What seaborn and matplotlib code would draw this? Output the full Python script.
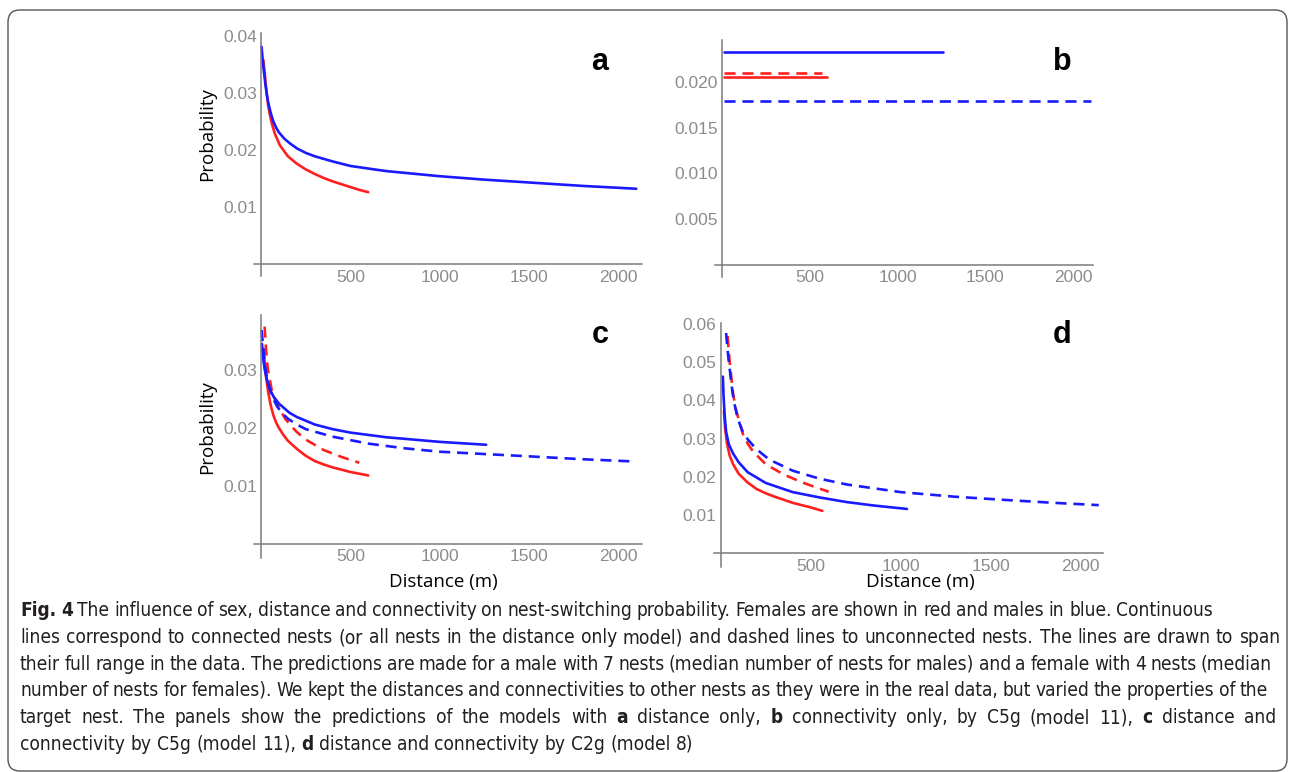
"""Fig. 4 – nest-switching probability vs distance, four model panels."""

import matplotlib
matplotlib.use('Agg')
import matplotlib.pyplot as plt
import numpy as np
import pandas as pd
import seaborn as sns
from matplotlib import font_manager
from matplotlib.font_manager import FontProperties
from matplotlib.patches import FancyBboxPatch
from matplotlib.ticker import FixedLocator, MultipleLocator, FormatStrFormatter
from matplotlib.transforms import IdentityTransform

# ---- data (distance in m, probability) ----
# a: distance only
A_DIST_F = [13, 20, 26, 33, 41, 50, 60, 78, 106, 150, 200, 250, 300, 350, 400, 450, 500, 550, 600]
A_PROB_F = [0.0358, 0.0336, 0.0317, 0.0296, 0.0276, 0.0261, 0.0247, 0.0228, 0.0208, 0.0189,
            0.0176, 0.0166, 0.0158, 0.0151, 0.0145, 0.0140, 0.0135, 0.0130, 0.0126]
A_DIST_M = [3, 8, 13, 20, 26, 33, 41, 55, 69, 85, 100, 130, 160, 200, 250, 300, 400, 500,
            700, 1000, 1250, 1500, 1800, 2100]
A_PROB_M = [0.0381, 0.0362, 0.0346, 0.0327, 0.0311, 0.0296, 0.0282, 0.0264, 0.0250, 0.0239,
            0.0231, 0.0220, 0.0212, 0.0203, 0.0195, 0.0189, 0.0180, 0.0172, 0.0163, 0.0154,
            0.0148, 0.0143, 0.0137, 0.0132]

# b: connectivity only (flat over the observed distance range)
B_DIST_F_CON = [10, 600]
B_PROB_F_CON = [0.0205, 0.0205]
B_DIST_F_UNC = [10, 570]
B_PROB_F_UNC = [0.0210, 0.0210]
B_DIST_M_CON = [10, 1260]
B_PROB_M_CON = [0.0233, 0.0233]
B_DIST_M_UNC = [10, 2100]
B_PROB_M_UNC = [0.0179, 0.0179]

# c: distance + connectivity (C5g)
C_DIST_F_CON = [15, 22, 30, 40, 50, 60, 70, 85, 100, 125, 150, 200, 250, 300, 350, 400,
                450, 500, 550, 600]
C_PROB_F_CON = [0.0335, 0.0305, 0.0284, 0.0262, 0.0245, 0.0232, 0.0221, 0.0209, 0.0200,
                0.0188, 0.0178, 0.0164, 0.0152, 0.0143, 0.0137, 0.0132, 0.0128, 0.0124,
                0.0121, 0.0118]
C_DIST_F_UNC = [20, 26, 32, 38, 45, 60, 80, 100, 135, 170, 200, 250, 300, 350, 400, 450, 500, 550]
C_PROB_F_UNC = [0.0375, 0.0345, 0.0318, 0.0302, 0.0290, 0.0265, 0.0247, 0.0235, 0.0216,
                0.0203, 0.0193, 0.0180, 0.0171, 0.0162, 0.0156, 0.0150, 0.0145, 0.0140]
C_DIST_M_CON = [5, 12, 20, 30, 40, 55, 70, 100, 130, 160, 200, 300, 400, 500, 700, 1000, 1260]
C_PROB_M_CON = [0.0345, 0.0320, 0.0302, 0.0287, 0.0276, 0.0263, 0.0254, 0.0242, 0.0234,
                0.0226, 0.0219, 0.0206, 0.0198, 0.0192, 0.0184, 0.0176, 0.0171]
C_DIST_M_UNC = [3, 10, 20, 30, 40, 60, 90, 120, 150, 200, 250, 400, 600, 800, 1000, 1250,
                1500, 1800, 2100]
C_PROB_M_UNC = [0.0369, 0.0345, 0.0312, 0.0292, 0.0277, 0.0256, 0.0237, 0.0225, 0.0216,
                0.0206, 0.0198, 0.0185, 0.0173, 0.0165, 0.0159, 0.0155, 0.0151, 0.0146, 0.0142]

# d: distance + connectivity (C2g)
D_DIST_F_CON = [18, 25, 35, 50, 70, 100, 150, 200, 250, 300, 400, 500, 565]
D_PROB_F_CON = [0.0372, 0.0325, 0.0287, 0.0255, 0.0232, 0.0208, 0.0185, 0.0168, 0.0157,
                0.0148, 0.0132, 0.0120, 0.0111]
D_DIST_F_UNC = [38, 44, 50, 60, 70, 85, 100, 125, 150, 180, 250, 350, 450, 525, 600]
D_PROB_F_UNC = [0.0568, 0.0532, 0.0500, 0.0455, 0.0414, 0.0375, 0.0350, 0.0310, 0.0287,
                0.0266, 0.0233, 0.0206, 0.0186, 0.0173, 0.0161]
D_DIST_M_CON = [12, 16, 22, 30, 45, 70, 100, 150, 250, 400, 550, 700, 850, 1035]
D_PROB_M_CON = [0.0462, 0.0410, 0.0360, 0.0318, 0.0285, 0.0260, 0.0238, 0.0212, 0.0184,
                0.0160, 0.0146, 0.0134, 0.0125, 0.0116]
D_DIST_M_UNC = [30, 36, 42, 50, 57, 66, 76, 94, 122, 150, 178, 220, 270, 400, 550, 700,
                1000, 1300, 1600, 1850, 2100]
D_PROB_M_UNC = [0.0576, 0.0544, 0.0514, 0.0482, 0.0453, 0.0420, 0.0392, 0.0353, 0.0318,
                0.0298, 0.0283, 0.0264, 0.0245, 0.0216, 0.0195, 0.0180, 0.0160, 0.0148,
                0.0139, 0.0132, 0.0126]

X_TICKS = [500, 1000, 1500, 2000]
Y_TICKS_A = [0.01, 0.02, 0.03, 0.04]
Y_TICKS_B = [0.005, 0.010, 0.015, 0.020]
Y_TICKS_C = [0.01, 0.02, 0.03]
Y_TICKS_D = [0.01, 0.02, 0.03, 0.04, 0.05, 0.06]
PANEL_LETTERS = ['a', 'b', 'c', 'd']

CAPTION = [
    [("Fig. 4", True), ("The influence of sex, distance and connectivity on nest-switching probability. "
                        "Females are shown in red and males in blue. Continuous", False)],
    [("lines correspond to connected nests (or all nests in the distance only model) and dashed "
      "lines to unconnected nests. The lines are drawn to span", False)],
    [("their full range in the data. The predictions are made for a male with 7 nests (median "
      "number of nests for males) and a female with 4 nests (median", False)],
    [("number of nests for females). We kept the distances and connectivities to other nests as "
      "they were in the real data, but varied the properties of the", False)],
    [("target nest. The panels show the predictions of the models with", False), ("a", True),
     ("distance only,", False), ("b", True), ("connectivity only, by C5g (model 11),", False),
     ("c", True), ("distance and", False)],
    [("connectivity by C5g (model 11),", False), ("d", True),
     ("distance and connectivity by C2g (model 8)", False)],
]

# ---- figure set-up ----
W, H = 1290, 772
sns.set_style('white')
plt.rcParams['font.family'] = ['Liberation Sans', 'DejaVu Sans']

# caption is set in a condensed face in the original; use the narrowest one around
try:
    font_manager.findfont('Liberation Sans Narrow', fallback_to_default=False)
    CAP_KW = dict(family=['Liberation Sans Narrow', 'DejaVu Sans'])
except ValueError:
    cond = font_manager.findfont(FontProperties(family='DejaVu Sans', stretch='condensed'))
    if 'Condensed' in cond:
        CAP_KW = dict(family=['DejaVu Sans'], fontstretch='condensed')
    else:
        CAP_KW = dict(family=['Liberation Sans', 'DejaVu Sans'])

PALETTE = {'female': '#ff1f1f', 'male': '#1a1aff'}
DASHES = {'connected': '', 'unconnected': (4.2, 2.6)}


def long_frame(series):
    rows = []
    for (sex, nest), (xs, ys) in series.items():
        for x, y in zip(xs, ys):
            rows.append({'distance': x, 'prob': y, 'sex': sex, 'nest': nest})
    return pd.DataFrame(rows)


def box(left, top, right, bottom):
    """pixel box (origin top-left) -> figure fraction rect"""
    return [left / W, 1 - bottom / H, (right - left) / W, (bottom - top) / H]


def style_axes(ax, xlim, ylim, yticks, ystep, yfmt):
    ax.set_xlim(*xlim)
    ax.set_ylim(*ylim)
    ax.set_facecolor('none')
    for side in ['top', 'right']:
        ax.spines[side].set_visible(False)
    for side in ['left', 'bottom']:
        ax.spines[side].set_position(('data', 0))
        ax.spines[side].set_color('#7a7a7a')
        ax.spines[side].set_linewidth(1.1)
    ax.xaxis.set_major_locator(FixedLocator(X_TICKS))
    ax.xaxis.set_minor_locator(MultipleLocator(100))
    ax.yaxis.set_major_locator(FixedLocator(yticks))
    ax.yaxis.set_minor_locator(FixedLocator(np.arange(ystep, ylim[1], ystep)))
    ax.yaxis.set_major_formatter(FormatStrFormatter(yfmt))
    ax.tick_params(which='both', direction='in', color='#7a7a7a', labelcolor='#8c8c8c',
                   labelsize=12.5, width=1)
    ax.tick_params(axis='x', pad=4)
    ax.tick_params(axis='y', pad=3)
    ax.tick_params(which='major', length=5)
    ax.tick_params(which='minor', length=3)
    ax.set_xlabel('')
    ax.set_ylabel('')


def draw(ax, series):
    df = long_frame(series)
    sns.lineplot(data=df, x='distance', y='prob', hue='sex', style='nest',
                 palette=PALETTE, dashes=DASHES, linewidth=1.9, estimator=None,
                 legend=False, ax=ax)


fig = plt.figure(figsize=(W / 100, H / 100), dpi=100)

ax_a = fig.add_axes(box(253.9, 33.2, 641.6, 276.5))
draw(ax_a, {('female', 'connected'): (A_DIST_F, A_PROB_F),
            ('male', 'connected'): (A_DIST_M, A_PROB_M)})
style_axes(ax_a, (-40, 2130), (-0.0022, 0.0405), Y_TICKS_A, 0.002, '%.2f')

ax_b = fig.add_axes(box(715, 40, 1093, 276.6))
draw(ax_b, {('female', 'connected'): (B_DIST_F_CON, B_PROB_F_CON),
            ('female', 'unconnected'): (B_DIST_F_UNC, B_PROB_F_UNC),
            ('male', 'connected'): (B_DIST_M_CON, B_PROB_M_CON),
            ('male', 'unconnected'): (B_DIST_M_UNC, B_PROB_M_UNC)})
style_axes(ax_b, (-40, 2113), (-0.0013, 0.0246), Y_TICKS_B, 0.001, '%.3f')

ax_c = fig.add_axes(box(253.9, 315, 641.6, 558.3))
draw(ax_c, {('female', 'connected'): (C_DIST_F_CON, C_PROB_F_CON),
            ('female', 'unconnected'): (C_DIST_F_UNC, C_PROB_F_UNC),
            ('male', 'connected'): (C_DIST_M_CON, C_PROB_M_CON),
            ('male', 'unconnected'): (C_DIST_M_UNC, C_PROB_M_UNC)})
style_axes(ax_c, (-40, 2130), (-0.0025, 0.0395), Y_TICKS_C, 0.002, '%.2f')

ax_d = fig.add_axes(box(713.5, 322.7, 1103.4, 566.7))
draw(ax_d, {('female', 'connected'): (D_DIST_F_CON, D_PROB_F_CON),
            ('female', 'unconnected'): (D_DIST_F_UNC, D_PROB_F_UNC),
            ('male', 'connected'): (D_DIST_M_CON, D_PROB_M_CON),
            ('male', 'unconnected'): (D_DIST_M_UNC, D_PROB_M_UNC)})
style_axes(ax_d, (-40, 2126), (-0.0035, 0.0603), Y_TICKS_D, 0.002, '%.2f')

# axis titles and panel letters
label_kw = dict(fontsize=13.5, family=['Open Sans', 'DejaVu Sans'], color='black',
                ha='center', va='center')
fig.text(206.7 / W, 1 - 134 / H, 'Probability', rotation=90, **label_kw)
fig.text(206.7 / W, 1 - 426.7 / H, 'Probability', rotation=90, **label_kw)
fig.text(443 / W, 1 - 581.5 / H, 'Distance (m)', **label_kw)
fig.text(920 / W, 1 - 581.5 / H, 'Distance (m)', **label_kw)

for letter, (px, py) in zip(PANEL_LETTERS, [(600, 70), (1062, 70), (600, 343), (1062, 343)]):
    fig.text(px / W, 1 - py / H, letter, fontsize=22, fontweight='bold',
             ha='center', va='baseline', color='black')

# rounded frame round the whole figure
frame = FancyBboxPatch((8, 1), 1279, 761, boxstyle='round,pad=0,rounding_size=12',
                       transform=IdentityTransform(), fill=False, ec='#555555', lw=1.0)
fig.add_artist(frame)

# ---- caption, justified word by word ----
renderer = fig.canvas.get_renderer()


def words_of(line):
    out = []
    for text, bold in line:
        out += [(w, bold) for w in text.split(' ') if w]
    return out


def measure(word, bold, size):
    t = fig.text(0, 0, word, fontsize=size, fontweight='bold' if bold else 'normal', **CAP_KW)
    w = t.get_window_extent(renderer).width
    t.remove()
    return w


probe = words_of(CAPTION[1])
space10 = measure('x x', False, 10) - measure('xx', False, 10)
natural10 = sum(measure(w, b, 10) for w, b in probe) + space10 * (len(probe) - 1)
cap_size = 10 * 1245 / natural10
space = space10 * cap_size / 10

CAP_LEFT = 20
CAP_RIGHT = [1213, 1280, 1272, 1268, 1276, None]
CAP_BASE = [616, 643, 669.5, 696, 723, 749.5]

for line, right, base in zip(CAPTION, CAP_RIGHT, CAP_BASE):
    words = words_of(line)
    widths = [measure(w, b, cap_size) for w, b in words]
    gap = space if right is None else (right - CAP_LEFT - sum(widths)) / (len(words) - 1)
    x = CAP_LEFT
    for (w, b), wd in zip(words, widths):
        fig.text(x / W, 1 - base / H, w, fontsize=cap_size, color='#231f20',
                 fontweight='bold' if b else 'normal', ha='left', va='baseline', **CAP_KW)
        x += wd + gap

fig.savefig('out.png', dpi=100)
plt.close(fig)
